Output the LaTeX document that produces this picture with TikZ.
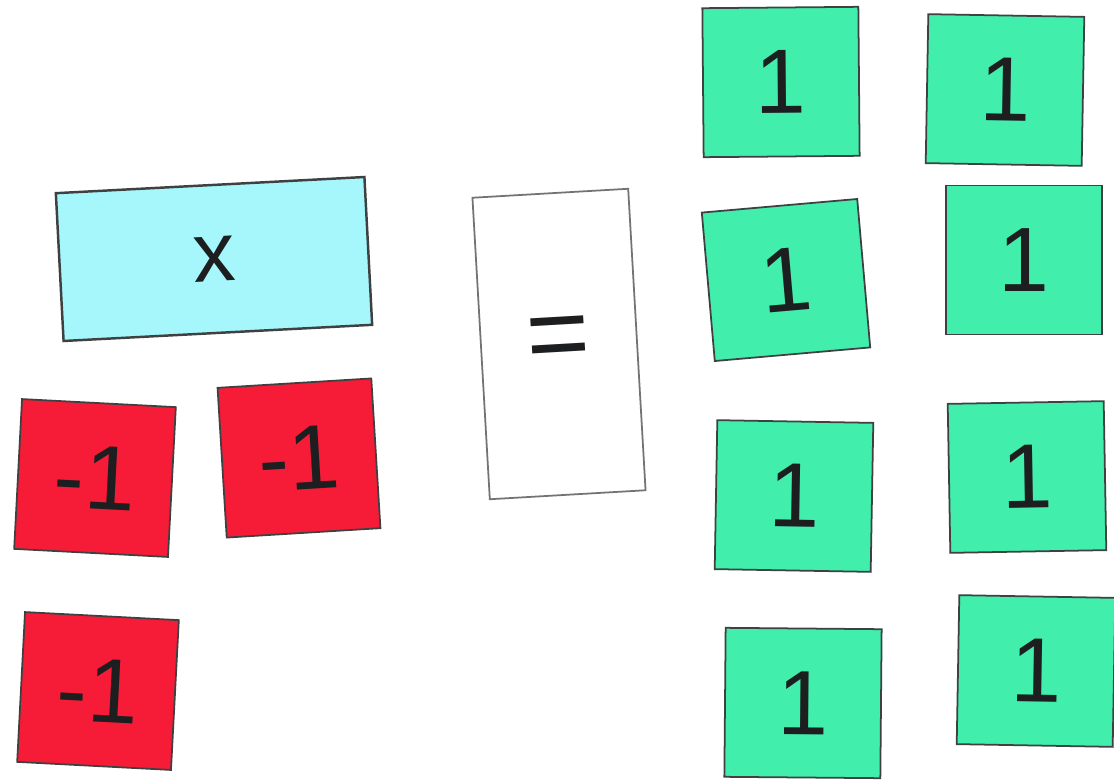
\documentclass[tikz,border=0pt]{standalone}
\usepackage{fontspec}
\setmainfont{Liberation Sans}
\definecolor{xcyan}{RGB}{166,247,251}
\definecolor{negred}{RGB}{246,28,56}
\definecolor{posgreen}{RGB}{66,238,172}
\definecolor{inkdark}{RGB}{28,30,32}

\begin{document}
\begin{tikzpicture}[
        tile/.style={draw=inkdark!85, line width=0.5pt, text=inkdark, inner sep=0pt,
            font=\fontsize{26}{30}\selectfont},
        xtile/.style={tile, fill=xcyan, minimum width=3.09cm, minimum height=1.48cm, line width=0.7pt,
            font=\fontsize{24}{28}\selectfont},
        negtile/.style={tile, fill=negred, minimum width=1.54cm, minimum height=1.50cm},
        postile/.style={tile, fill=posgreen, minimum width=1.56cm, minimum height=1.49cm},
        eqcard/.style={tile, draw=black!55, fill=white, minimum width=1.56cm, minimum height=3.02cm,
            font=\fontsize{31}{34}\selectfont}
    ]
        \clip (0,0) rectangle (11.14,-7.82);
        \fill[white] (0,0) rectangle (11.14,-7.82);

        % Left side: x and three -1 tiles
        \node[xtile, rotate=3] (xt) at (2.14,-2.59) {x};
        \foreach \x/\y/\r [count=\i] in {0.95/-4.78/-3, 2.99/-4.58/3.5, 0.98/-6.91/-3} {
            \node[negtile, rotate=\r] (n\i) at (\x,\y) {-1};
        }

        % Equals card
        \node[eqcard, rotate=3.3] (eq) at (5.59,-3.44) {=};

        % Right side: eight 1 tiles
        \foreach \x/\y/\r [count=\i] in {7.81/-0.82/0.5, 10.05/-0.90/-1, 7.86/-2.80/5, 10.24/-2.60/0,
                                           7.94/-4.96/-1, 10.27/-4.77/1, 8.03/-7.03/-0.5, 10.36/-6.71/-1} {
            \node[postile, rotate=\r] (p\i) at (\x,\y) {1};
        }
    \end{tikzpicture}
\end{document}
